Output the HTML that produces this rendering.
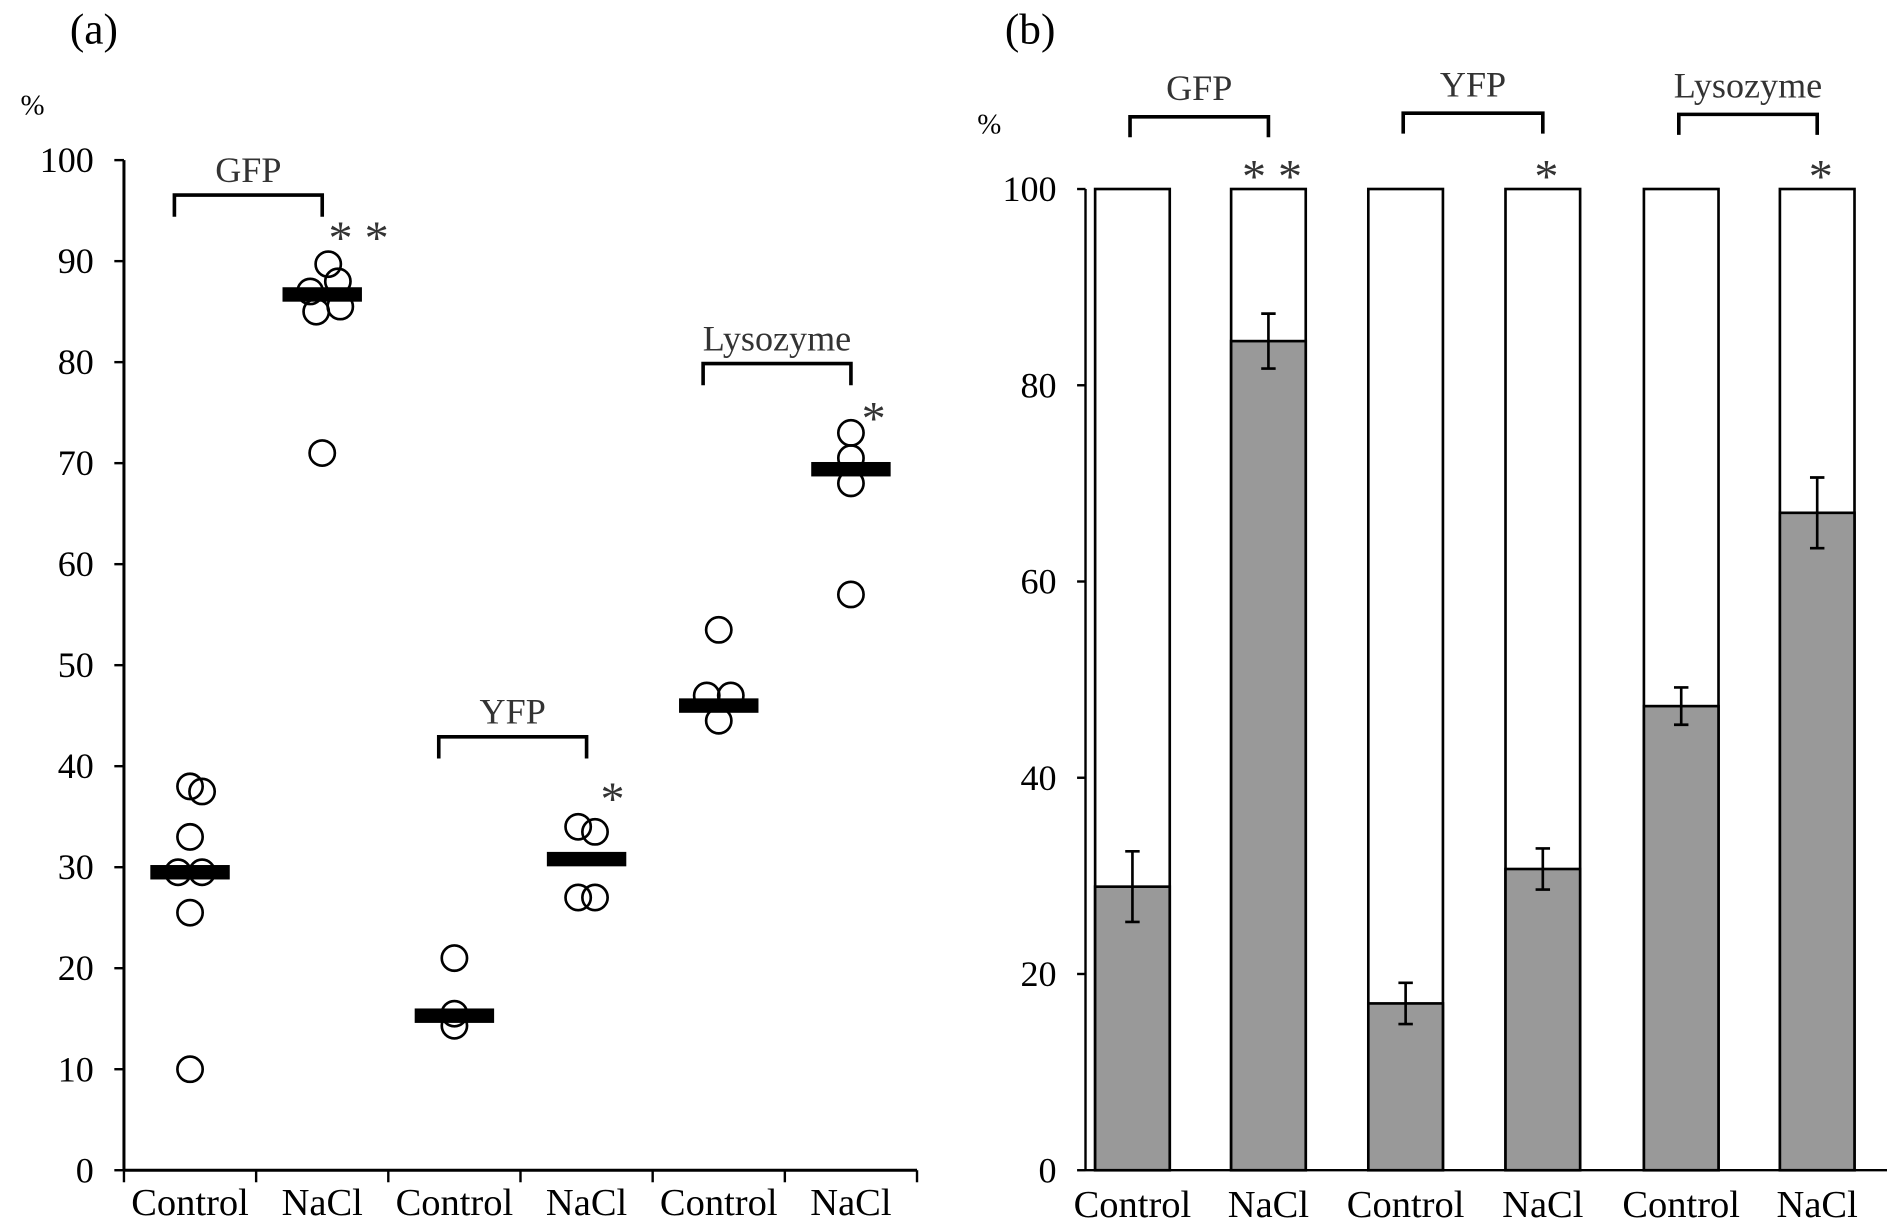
<!DOCTYPE html>
<html><head><meta charset="utf-8"><style>
html,body{margin:0;padding:0;background:#fff;}
svg{display:block;font-family:"Liberation Serif",serif;}
</style></head><body>
<svg id="fig" width="1887" height="1222" viewBox="0 0 1568 1015" preserveAspectRatio="none" xmlns="http://www.w3.org/2000/svg">
<rect width="1568" height="1015" fill="#fff"/>
<text x="78" y="36" font-size="36" text-anchor="middle">(a)</text>
<text x="27" y="95" font-size="24" text-anchor="middle">%</text>
<text x="856" y="36" font-size="36" text-anchor="middle">(b)</text>
<text x="822" y="111" font-size="24" text-anchor="middle">%</text>
<g id="ga"></g><g id="gb"></g>
</svg>
<script>
const NS="http://www.w3.org/2000/svg";
const categories=["Control","NaCl","Control","NaCl","Control","NaCl"];
const groups=["GFP","YFP","Lysozyme"];
const ticksA=[0,10,20,30,40,50,60,70,80,90,100];
const ticksB=[0,20,40,60,80,100];
const pointsA=[[38,37.5,33,29.5,29.5,25.5,10],[89.7,88,87,85,85.5,71],[21,15.5,14.3],[34,33.5,27,27],[53.5,47,47,44.5],[73,70.5,68,57]];
const offsetsA=[[0,10,0,-10,10,0,0],[5,13,-10,-5,15,0],[0,0,0],[-7,7,-7,7],[0,-10,10,0],[0,0,0,0]];
const meansA=[29.5,86.7,15.3,30.8,46,69.4];
const meansB=[28.9,84.5,17,30.7,47.3,67];
const errB=[3.6,2.8,2.1,2.1,1.9,3.6];
const starsText=["* *","*","*"];
function el(p,t,a,txt){const e=document.createElementNS(NS,t);for(const k in a)e.setAttribute(k,a[k]);if(txt!==undefined)e.textContent=txt;p.appendChild(e);return e;}
// Panel A
const ga=document.getElementById('ga');
const axA={x0:103,x1:762,y0:972,y1:133};
const yA=v=>axA.y0-(v/100)*(axA.y0-axA.y1);
const cw=(axA.x1-axA.x0)/6;
const xA=i=>axA.x0+cw*(i+0.5);
let e=el(ga,'line',{x1:axA.x0,y1:axA.y0,x2:axA.x0,y2:axA.y1,stroke:'#000','stroke-width':2.5});

e=el(ga,'line',{x1:axA.x0,y1:axA.y0,x2:axA.x1,y2:axA.y0,stroke:'#000','stroke-width':2.5});

ticksA.forEach(t=>{el(ga,'line',{x1:axA.x0-8,y1:yA(t),x2:axA.x0,y2:yA(t),stroke:'#000','stroke-width':2});
 e=el(ga,'text',{x:78,y:yA(t)+10,'font-size':30,'text-anchor':'end'},t);
 });
for(let i=0;i<=6;i++)el(ga,'line',{x1:axA.x0+cw*i,y1:axA.y0,x2:axA.x0+cw*i,y2:axA.y0+10,stroke:'#000','stroke-width':2});
categories.forEach((c,i)=>{e=el(ga,'text',{x:xA(i),y:1009,'font-size':32,'text-anchor':'middle'},c);
 });
pointsA.forEach((arr,i)=>{arr.forEach((v,j)=>{e=el(ga,'circle',{cx:xA(i)+offsetsA[i][j],cy:yA(v),r:10.5,fill:'none',stroke:'#000','stroke-width':2.2});
 });
 e=el(ga,'rect',{x:xA(i)-33,y:yA(meansA[i])-6,width:66,height:12,fill:'#000'});
 });
groups.forEach((g,k)=>{
 const by=[162,612,302][k];const x1=xA(2*k)-13,x2=xA(2*k+1);
 e=el(ga,'path',{d:`M${x1} ${by+18}V${by}H${x2}V${by+18}`,fill:'none',stroke:'#000','stroke-width':3});
 
 e=el(ga,'text',{x:(x1+x2)/2,y:by-11,'font-size':30,'text-anchor':'middle',fill:'#333'},g);
 
 e=el(ga,'text',{x:[298,509,726][k],y:[211,677,361][k],'font-size':40,'text-anchor':'middle',fill:'#333'},starsText[k]);
 });
// Panel B
const gb=document.getElementById('gb');
const axB={x0:902,x1:1568,y0:972,y1:157};
const yB=v=>axB.y0-(v/100)*(axB.y0-axB.y1);
const centersB=[941,1054,1168,1282,1397,1510];
e=el(gb,'line',{x1:axB.x0,y1:axB.y0,x2:axB.x0,y2:axB.y1,stroke:'#000','stroke-width':2});

e=el(gb,'line',{x1:axB.x0,y1:axB.y0,x2:axB.x1,y2:axB.y0,stroke:'#000','stroke-width':2});

ticksB.forEach(t=>{el(gb,'line',{x1:axB.x0-7,y1:yB(t),x2:axB.x0,y2:yB(t),stroke:'#000','stroke-width':2});
 e=el(gb,'text',{x:878,y:yB(t)+10,'font-size':30,'text-anchor':'end'},t);
 });
meansB.forEach((v,i)=>{const cx=centersB[i],w=62;
 e=el(gb,'rect',{x:cx-w/2,y:yB(100),width:w,height:yB(0)-yB(100),fill:'#fff',stroke:'#000','stroke-width':2.2});
 
 e=el(gb,'rect',{x:cx-w/2,y:yB(v),width:w,height:yB(0)-yB(v),fill:'#999',stroke:'#000','stroke-width':2.2});
 
 const t=yB(v+errB[i]),b=yB(v-errB[i]);
 e=el(gb,'path',{d:`M${cx} ${t}V${b}M${cx-6} ${t}H${cx+6}M${cx-6} ${b}H${cx+6}`,stroke:'#000','stroke-width':2.2,fill:'none'});
 
 e=el(gb,'text',{x:cx,y:1011,'font-size':32,'text-anchor':'middle'},categories[i]);
 });
groups.forEach((g,k)=>{const by=[97,94,95][k];const x1=centersB[2*k]-2,x2=centersB[2*k+1];
 e=el(gb,'path',{d:`M${x1} ${by+17}V${by}H${x2}V${by+17}`,fill:'none',stroke:'#000','stroke-width':3});
 
 e=el(gb,'text',{x:(x1+x2)/2,y:by-14,'font-size':30,'text-anchor':'middle',fill:'#333'},g);
 
 e=el(gb,'text',{x:centersB[2*k+1]+3,y:160,'font-size':40,'text-anchor':'middle',fill:'#333'},starsText[k]);
 });
</script>
</body></html>
